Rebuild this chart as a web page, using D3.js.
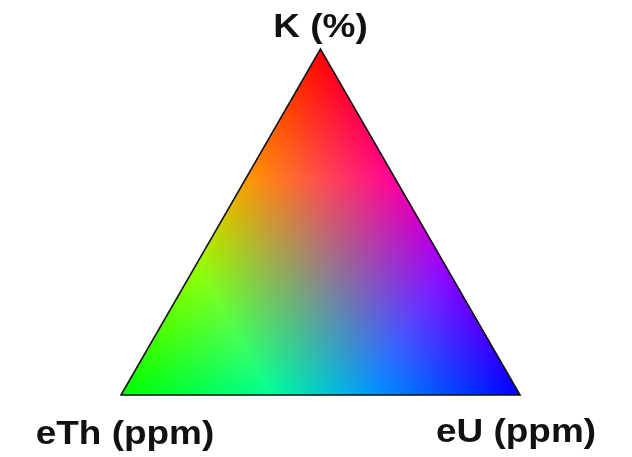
<!DOCTYPE html>
<html>
<head>
<meta charset="utf-8">
<script src="https://cdn.jsdelivr.net/npm/d3@7"></script>
<style>
  html, body { margin: 0; padding: 0; background: #fff; }
  #chart { position: relative; width: 632px; height: 457px; }
  #chart canvas, #chart svg { position: absolute; left: 0; top: 0; }
</style>
</head>
<body>
<div id="chart"></div>
<script>
// ternary axes: apex, bottom-left, bottom-right
const components = ["K (%)", "eTh (ppm)", "eU (ppm)"];
const channels = ["red", "green", "blue"];
const gain = 1.6; // channel = min(1, gain * fraction)

const width = 632, height = 457;

// side position (0..1) and height (K fraction 0..1)
const x = d3.scaleLinear().domain([0, 1]).range([121, 520]);
const y = d3.scaleLinear().domain([0, 1]).range([395, 49]);
const level = d3.scaleLinear().domain([0, 1 / gain]).range([0, 255]).clamp(true);

// ternary (k, th, u) -> screen
const project = (k, th, u) => [x(u + k / 2), y(k)];

const chart = d3.select("#chart");

const canvas = chart.append("canvas")
  .attr("width", width)
  .attr("height", height)
  .node();
const ctx = canvas.getContext("2d");
const img = ctx.createImageData(width, height);

for (let py = 0; py < height; py++) {
  for (let px = 0; px < width; px++) {
    const k = y.invert(py + 0.5);
    const u = x.invert(px + 0.5) - k / 2;
    const th = 1 - k - u;
    if (k < 0 || u < 0 || th < 0) continue;
    const i = (py * width + px) * 4;
    img.data[i] = level(k);
    img.data[i + 1] = level(th);
    img.data[i + 2] = level(u);
    img.data[i + 3] = 255;
  }
}
ctx.putImageData(img, 0, 0);

const svg = chart.append("svg")
  .attr("width", width)
  .attr("height", height);

const corners = [project(1, 0, 0), project(0, 1, 0), project(0, 0, 1)];

svg.append("path")
  .attr("d", d3.line()(corners) + "Z")
  .attr("fill", "none")
  .attr("stroke", "#111")
  .attr("stroke-width", 1.6)
  .attr("stroke-linejoin", "miter");

// label anchors relative to the corners
const labelOffsets = [[0, -12], [4, 49], [-4, 47]];

svg.selectAll("text.label")
  .data(components)
  .join("text")
  .attr("class", "label")
  .attr("transform", (d, i) => {
    const [cx, cy] = corners[i];
    return `translate(${cx + labelOffsets[i][0]},${cy + labelOffsets[i][1]}) scale(1.12,1)`;
  })
  .attr("text-anchor", "middle")
  .attr("font-family", "Liberation Sans, Arial, sans-serif")
  .attr("font-weight", "bold")
  .attr("font-size", 33)
  .attr("fill", "#111")
  .text(d => d);
</script>
</body>
</html>
